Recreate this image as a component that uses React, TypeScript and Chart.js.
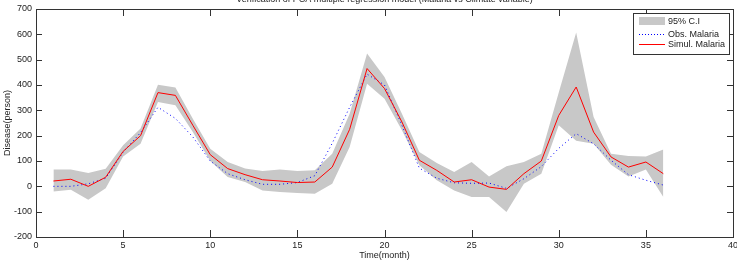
import React, { useEffect, useRef } from "react";
import { Chart, registerables } from "chart.js";

Chart.register(...registerables);

const months = [1,2,3,4,5,6,7,8,9,10,11,12,13,14,15,16,17,18,19,20,21,22,23,24,25,26,27,28,29,30,31,32,33,34,35,36];
const observed = [0,0,10,32,135,212,312,268,195,100,50,26,8,8,15,42,170,312,443,400,241,72,32,14,12,13,-8,30,78,150,208,168,103,46,24,5];
const simulated = [21,28,0,36,138,200,370,359,241,125,70,46,26,21,15,17,76,225,465,386,254,103,63,17,26,-3,-12,50,100,280,392,214,116,76,96,50];
const ciUpper = [66,66,53,69,162,228,401,390,267,148,96,70,61,66,61,63,129,287,524,432,287,136,92,57,96,39,79,96,129,370,607,274,129,120,118,145];
const ciLower = [-20,-13,-53,-8,118,168,333,320,214,100,37,17,-16,-22,-26,-29,10,155,405,346,221,83,24,-16,-42,-42,-101,10,50,241,180,168,85,39,66,-42];

const xTicks = [0,5,10,15,20,25,30,35,40];
const yTicks = [-200,-100,0,100,200,300,400,500,600,700];

const titleText = "Verification of PCA multiple regression model (Malaria vs Climate variable)";
const xLabel = "Time(month)";
const yLabel = "Disease(person)";
const legendLabels = ["95% C.I", "Obs. Malaria", "Simul. Malaria"];

const FAMILY = "'Liberation Sans', Arial, sans-serif";
const FONT = "9px " + FAMILY;
const AXIS = "#333333";
const BAND = "#c8c8c8";
const RED = "#ff0000";
const BLUE = "#0000ff";

const pts = (vals: number[]) => months.map((m, i) => ({ x: m, y: vals[i] }));

const decorPlugin = {
  id: "decor",
  afterDraw(chart: any) {
    const ctx = chart.ctx as CanvasRenderingContext2D;
    const { left, right, top, bottom } = chart.chartArea;
    const xs = chart.scales.x;
    const ys = chart.scales.y;
    ctx.save();
    ctx.strokeStyle = AXIS;
    ctx.lineWidth = 1;
    ctx.strokeRect(Math.round(left) + 0.5, Math.round(top) + 0.5, Math.round(right - left), Math.round(bottom - top));
    ctx.beginPath();
    xTicks.forEach((v) => {
      const px = Math.round(xs.getPixelForValue(v)) + 0.5;
      ctx.moveTo(px, bottom);
      ctx.lineTo(px, bottom - 7);
      ctx.moveTo(px, top);
      ctx.lineTo(px, top + 7);
    });
    yTicks.forEach((v) => {
      const py = Math.round(ys.getPixelForValue(v)) + 0.5;
      ctx.moveTo(left, py);
      ctx.lineTo(left + 6, py);
      ctx.moveTo(right, py);
      ctx.lineTo(right - 6, py);
    });
    ctx.stroke();

    ctx.fillStyle = "#222";
    ctx.font = FONT;
    ctx.textAlign = "center";
    ctx.textBaseline = "alphabetic";
    ctx.fillText(titleText, (left + right) / 2, 2);
    ctx.fillText(xLabel, (left + right) / 2, 258);
    ctx.save();
    ctx.translate(10, (top + bottom) / 2);
    ctx.rotate(-Math.PI / 2);
    ctx.fillText(yLabel, 0, 0);
    ctx.restore();

    const bx = 633, by = 13, bw = 96, bh = 41;
    ctx.fillStyle = "#ffffff";
    ctx.fillRect(bx, by, bw, bh);
    ctx.strokeStyle = AXIS;
    ctx.strokeRect(bx + 0.5, by + 0.5, bw, bh);
    ctx.fillStyle = BAND;
    ctx.fillRect(639, 17, 26, 8);
    ctx.strokeStyle = BLUE;
    ctx.setLineDash([1, 2]);
    ctx.beginPath();
    ctx.moveTo(639, 34.5);
    ctx.lineTo(665, 34.5);
    ctx.stroke();
    ctx.setLineDash([]);
    ctx.strokeStyle = RED;
    ctx.beginPath();
    ctx.moveTo(639, 44.5);
    ctx.lineTo(665, 44.5);
    ctx.stroke();
    ctx.fillStyle = "#222";
    ctx.textAlign = "left";
    ctx.textBaseline = "middle";
    ctx.fillText(legendLabels[0], 668, 22);
    ctx.fillText(legendLabels[1], 668, 34.5);
    ctx.fillText(legendLabels[2], 668, 44.5);
    ctx.restore();
  },
};

export default function App() {
  const ref = useRef<HTMLCanvasElement | null>(null);
  useEffect(() => {
    document.body.style.margin = "0";
    const canvas = ref.current!;
    const chart = new Chart(canvas, {
      type: "line",
      data: {
        datasets: [
          {
            label: "Simul. Malaria",
            data: pts(simulated),
            borderColor: RED,
            borderWidth: 1,
            pointRadius: 0,
            fill: false,
            tension: 0,
            order: 0,
          },
          {
            label: "Obs. Malaria",
            data: pts(observed),
            borderColor: BLUE,
            borderWidth: 1,
            borderDash: [1, 3],
            pointRadius: 0,
            fill: false,
            tension: 0,
            order: 1,
          },
          {
            label: "upper",
            data: pts(ciUpper),
            borderWidth: 0,
            borderColor: "rgba(0,0,0,0)",
            backgroundColor: BAND,
            pointRadius: 0,
            fill: "+1",
            tension: 0,
            order: 2,
          },
          {
            label: "lower",
            data: pts(ciLower),
            borderWidth: 0,
            borderColor: "rgba(0,0,0,0)",
            pointRadius: 0,
            fill: false,
            tension: 0,
            order: 3,
          },
        ],
      },
      options: {
        responsive: false,
        animation: false,
        events: [],
        layout: { padding: { top: 9, right: 4, left: 0, bottom: 0 } },
        plugins: { legend: { display: false }, title: { display: false }, tooltip: { enabled: false } },
        scales: {
          x: {
            type: "linear",
            min: 0,
            max: 40,
            grid: { display: false, drawTicks: false },
            border: { display: false },
            ticks: { stepSize: 5, font: { size: 9, family: FAMILY }, color: "#222", padding: 3, maxRotation: 0 },
            afterFit: (s: any) => { s.height = 23; s.paddingLeft = 0; s.paddingRight = 0; },
          },
          y: {
            min: -200,
            max: 700,
            grid: { display: false, drawTicks: false },
            border: { display: false },
            ticks: { stepSize: 100, font: { size: 9, family: FAMILY }, color: "#222", padding: 4 },
            afterFit: (s: any) => { s.width = 36; s.paddingTop = 0; s.paddingBottom = 0; },
          },
        },
      },
      plugins: [decorPlugin],
    } as any);
    return () => chart.destroy();
  }, []);
  return (
    <div style={{ width: 737, height: 260 }}>
      <canvas ref={ref} width={737} height={260} style={{ display: "block" }} />
    </div>
  );
}
